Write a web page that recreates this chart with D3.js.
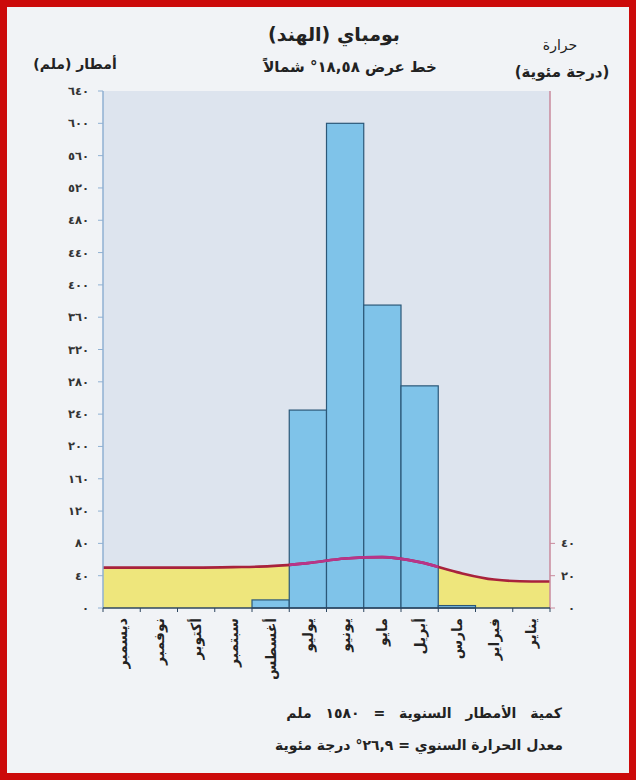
<!DOCTYPE html>
<html>
<head>
<meta charset="utf-8">
<script src="https://cdn.jsdelivr.net/npm/d3@7"></script>
<style>
  body { margin: 0; background: #f1f3f6; }
  svg { display: block; font-family: "DejaVu Sans", sans-serif; }
</style>
</head>
<body>
<div id="chart"></div>
<script>
// month labels as printed, left to right
const months = ["ديسمبر", "نوفمبر", "أكتوبر", "سبتمبر", "أغسطس", "يوليو", "يونيو", "مايو", "أبريل", "مارس", "فبراير", "يناير"];
// rainfall (mm) per column
const rainfall = [0, 0, 0, 0, 10, 245, 600, 375, 275, 3, 0, 0];
// temperature (deg C) per column
const temperature = [25.0, 25.0, 25.0, 25.3, 25.9, 27.8, 30.6, 31.5, 28.4, 22.2, 17.6, 16.4];
const rainTicks = [0, 40, 80, 120, 160, 200, 240, 280, 320, 360, 400, 440, 480, 520, 560, 600, 640];
const tempTicks = [0, 20, 40];

const W = 636, H = 780;
const plot = { left: 103, right: 550, top: 91, bottom: 608 };

// western digits -> arabic-indic
const arDigits = "٠١٢٣٤٥٦٧٨٩";
const toAr = s => String(s).replace(/\d/g, d => arDigits[d]);

const svg = d3.select("#chart").append("svg")
    .attr("width", W)
    .attr("height", H);

// page + red frame
svg.append("rect")
    .attr("x", 3.5).attr("y", 3.5)
    .attr("width", W - 7).attr("height", H - 7)
    .attr("fill", "#f1f3f6")
    .attr("stroke", "#cc0a0a")
    .attr("stroke-width", 7);

const x = d3.scaleBand().domain(months).range([plot.left, plot.right]).paddingInner(0);
const yRain = d3.scaleLinear().domain([0, 640]).range([plot.bottom, plot.top]);
const yTemp = d3.scaleLinear().domain([0, 320]).range([plot.bottom, plot.top]);

// plot background
svg.append("rect")
    .attr("x", plot.left).attr("y", plot.top)
    .attr("width", plot.right - plot.left)
    .attr("height", plot.bottom - plot.top)
    .attr("fill", "#dde4ee");

// temperature points, with the ends carried to the plot edges
const tempPts = [[plot.left, temperature[0]]]
    .concat(months.map((m, i) => [x(m) + x.bandwidth() / 2, temperature[i]]))
    .concat([[plot.right, temperature[temperature.length - 1]]]);

const area = d3.area()
    .x(d => d[0])
    .y0(plot.bottom)
    .y1(d => yTemp(d[1]))
    .curve(d3.curveMonotoneX);

const line = d3.line()
    .x(d => d[0])
    .y(d => yTemp(d[1]))
    .curve(d3.curveMonotoneX);

svg.append("path")
    .datum(tempPts)
    .attr("d", area)
    .attr("fill", "#eee67c");

// rainfall bars
const barData = months.map((m, i) => ({ month: m, value: rainfall[i] })).filter(d => d.value > 0);

svg.selectAll(".bar")
    .data(barData)
    .enter()
    .append("rect")
    .attr("class", "bar")
    .attr("x", d => x(d.month))
    .attr("width", x.bandwidth())
    .attr("y", d => yRain(d.value))
    .attr("height", d => plot.bottom - yRain(d.value))
    .attr("fill", "#7fc3e9")
    .attr("stroke", "#2b5878")
    .attr("stroke-width", 1.2);

// clip = bar shapes, so the line reads magenta where it crosses them
svg.append("clipPath")
    .attr("id", "barClip")
    .selectAll("rect")
    .data(barData)
    .enter()
    .append("rect")
    .attr("x", d => x(d.month))
    .attr("width", x.bandwidth())
    .attr("y", d => yRain(d.value))
    .attr("height", d => plot.bottom - yRain(d.value));

svg.append("path")
    .datum(tempPts)
    .attr("d", line)
    .attr("fill", "none")
    .attr("stroke", "#a8223c")
    .attr("stroke-width", 2.6);

svg.append("path")
    .datum(tempPts)
    .attr("d", line)
    .attr("fill", "none")
    .attr("stroke", "#b8348a")
    .attr("stroke-width", 2.6)
    .attr("clip-path", "url(#barClip)");

// left axis (rain)
svg.append("line")
    .attr("x1", plot.left).attr("x2", plot.left)
    .attr("y1", plot.top).attr("y2", plot.bottom)
    .attr("stroke", "#8fb0d2").attr("stroke-width", 1.5);

const leftTicks = svg.selectAll(".rtick")
    .data(rainTicks)
    .enter()
    .append("g")
    .attr("class", "rtick")
    .attr("transform", d => `translate(0,${yRain(d)})`);

leftTicks.append("line")
    .attr("x1", plot.left - 5).attr("x2", plot.left)
    .attr("stroke", "#8fb0d2").attr("stroke-width", 1);

leftTicks.append("text")
    .attr("x", 89)
    .attr("dy", "0.35em")
    .attr("text-anchor", "end")
    .attr("font-size", 11.5)
    .attr("font-weight", "bold")
    .attr("fill", "#333")
    .text(d => toAr(d));

// right axis (temperature)
svg.append("line")
    .attr("x1", plot.right).attr("x2", plot.right)
    .attr("y1", plot.top).attr("y2", plot.bottom)
    .attr("stroke", "#c98a9c").attr("stroke-width", 1.5);

const rightTicks = svg.selectAll(".ttick")
    .data(tempTicks)
    .enter()
    .append("g")
    .attr("class", "ttick")
    .attr("transform", d => `translate(0,${yTemp(d)})`);

rightTicks.append("line")
    .attr("x1", plot.right).attr("x2", plot.right + 5)
    .attr("stroke", "#c98a9c").attr("stroke-width", 1);

rightTicks.append("text")
    .attr("x", 575)
    .attr("dy", "0.35em")
    .attr("text-anchor", "end")
    .attr("font-size", 11.5)
    .attr("font-weight", "bold")
    .attr("fill", "#333")
    .text(d => toAr(d));

// bottom axis
svg.append("line")
    .attr("x1", plot.left).attr("x2", plot.right)
    .attr("y1", plot.bottom).attr("y2", plot.bottom)
    .attr("stroke", "#2c4660").attr("stroke-width", 1.6);

svg.selectAll(".mtick")
    .data(months.concat(["end"]))
    .enter()
    .append("line")
    .attr("class", "mtick")
    .attr("x1", (d, i) => plot.left + i * x.bandwidth())
    .attr("x2", (d, i) => plot.left + i * x.bandwidth())
    .attr("y1", plot.bottom)
    .attr("y2", plot.bottom + 4)
    .attr("stroke", "#2c4660");

svg.selectAll(".mlabel")
    .data(months)
    .enter()
    .append("text")
    .attr("class", "mlabel")
    .attr("transform", d => `translate(${x(d) + x.bandwidth() / 2},618) rotate(-90)`)
    .attr("dy", "0.35em")
    .attr("text-anchor", "end")
    .attr("font-size", 14)
    .attr("font-weight", "bold")
    .attr("fill", "#222")
    .text(d => d);

// titles
const txt = (s, xx, yy, size, anchor, weight) => svg.append("text")
    .attr("x", xx).attr("y", yy)
    .attr("text-anchor", anchor)
    .attr("font-size", size)
    .attr("font-weight", weight)
    .attr("fill", "#222")
    .text(s);

txt("بومباي (الهند)", 334, 41, 19, "middle", "bold");
txt("خط عرض " + toAr("18,58") + "° شمالاً", 350, 72, 15, "middle", "bold");
txt("أمطار (ملم)", 75, 69, 14, "middle", "bold");
txt("حرارة", 560, 50, 14, "middle", "normal");
txt("(درجة مئوية)", 562, 77, 15, "middle", "bold");

// footer notes
txt("كمية الأمطار السنوية = " + toAr(1580) + " ملم", 562, 718, 14, "end", "bold")
    .attr("word-spacing", 9);
txt("معدل الحرارة السنوي = " + toAr("26,9") + "° درجة مئوية", 563, 750, 14, "end", "bold");
</script>
</body>
</html>
